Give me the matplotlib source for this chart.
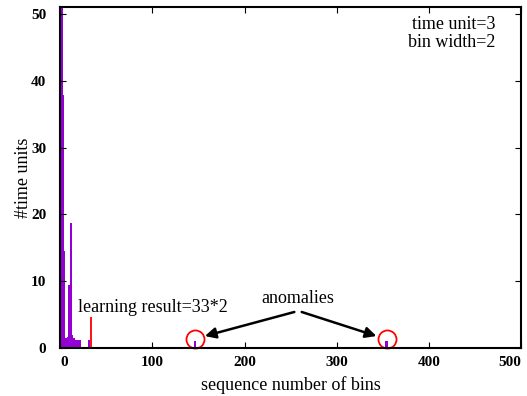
import numpy as np
import matplotlib
matplotlib.use("Agg")
import matplotlib.pyplot as plt

plt.rcParams['font.family'] = ['Liberation Serif', 'DejaVu Serif']

# histogram of time units per bin (bin index, count)
bins_main = [2, 3, 4, 6, 8, 10, 12, 13.5, 15, 17, 19, 22, 31]
counts_main = [60, 37.8, 14.5, 1.5, 1.6, 9.4, 18.7, 2.0, 1.5, 1.2, 1.2, 1.2, 1.2]
bins_dark = [0.5, 4.5]
counts_dark = [48.6, 3.4]

# learning result marker
learn_bin = 33
learn_height = 4.7

# anomalous bins
anom_bins = [146, 354]
anom_counts = [1.1, 1.1]

fig = plt.figure(figsize=(5.27, 3.96), dpi=100)
ax = fig.add_axes([0.114, 0.121, 0.875, 0.861])

ax.bar(bins_dark, counts_dark, width=2, color='#6a0a8c', linewidth=0)
ax.bar(bins_main, counts_main, width=2, color='#9400d3', linewidth=0)
ax.bar(anom_bins, anom_counts, width=2.6, color='#9400d3', linewidth=0)
ax.vlines(learn_bin, 0, learn_height, color='red', lw=1.3)

# circles around the anomalies
ax.plot(anom_bins, [1.3, 1.3], 'o', ms=13, mfc='none', mec='red', mew=1.3,
        clip_on=False)

ax.text(19, 6.1, 'learning result=33*2', fontsize=13, va='center')

ax.text(258, 7.4, 'anomalies', fontsize=13, ha='center', va='center')
for xa, tail in zip([157, 343], [254, 262]):
    ax.annotate('', xy=(xa, 1.8), xytext=(tail, 5.4),
                arrowprops=dict(arrowstyle='-|>', color='black', lw=1.8,
                                mutation_scale=16, shrinkA=0, shrinkB=0))

ax.text(0.945, 0.975, 'time unit=3\nbin width=2', transform=ax.transAxes,
        ha='right', va='top', fontsize=13, linespacing=1.1)

ax.set_xlim(0, 500)
ax.set_ylim(0, 51)
ax.set_xticks(np.arange(0, 501, 100))
ax.set_yticks(np.arange(0, 51, 10))
ax.tick_params(direction='in', top=True, right=True, length=4, width=0.8,
               labelsize=11)
ax.tick_params(axis='x', pad=6)
ax.tick_params(axis='y', pad=10)
for lab in ax.get_xticklabels() + ax.get_yticklabels():
    lab.set_fontweight('bold')
xl = ax.get_xticklabels()
xl[0].set_ha('left')
xl[-1].set_ha('right')
for s in ax.spines.values():
    s.set_linewidth(1.5)

ax.set_xlabel('sequence number of bins', fontsize=13, labelpad=5)
ax.set_ylabel('#time units', fontsize=13, labelpad=-0.5)

fig.savefig('out.png', dpi=100)
